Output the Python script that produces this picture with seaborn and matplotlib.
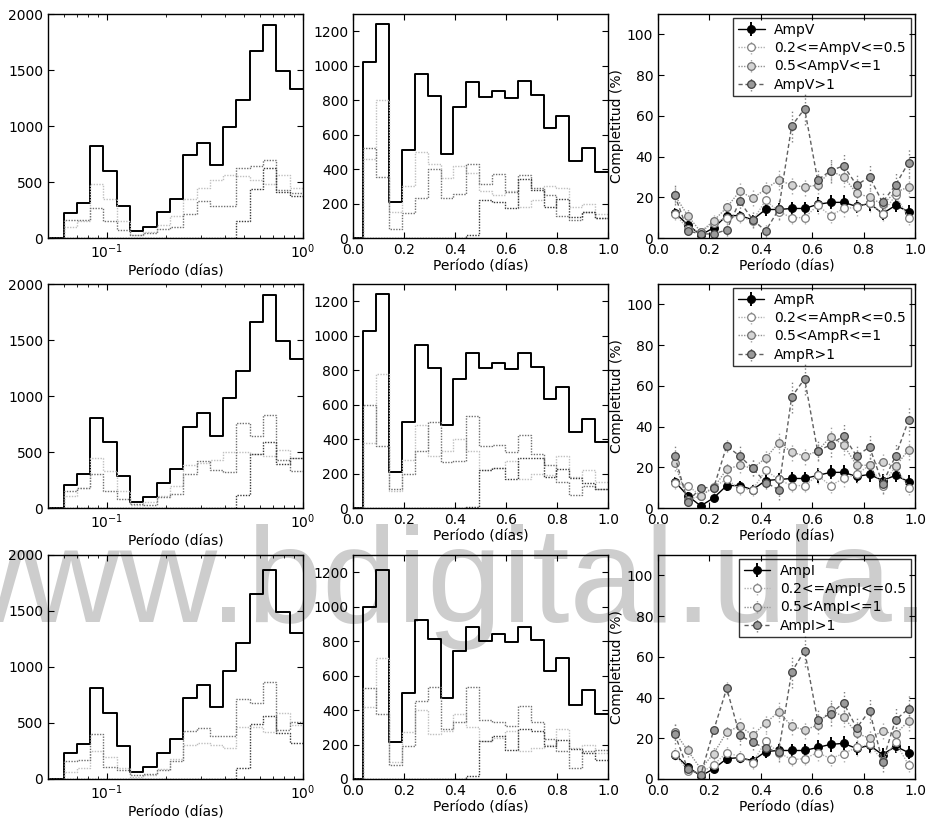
import numpy as np
import pandas as pd
import matplotlib
matplotlib.use("Agg")
import matplotlib.pyplot as plt
import seaborn as sns
from matplotlib.ticker import MultipleLocator

# ---------------------------------------------------------------------------
# Data
# ---------------------------------------------------------------------------
bands = ["V", "R", "I"]

# Left column: counts in 18 logarithmic period bins (0.06 - 1 d)
log_total_V = [220, 310, 820, 600, 290, 60, 100, 230, 350, 740, 850, 650, 990, 1230, 1670, 1900, 1490, 1330]
log_low_V = [100, 150, 480, 350, 150, 30, 50, 120, 200, 350, 450, 520, 560, 550, 520, 480, 560, 450]
log_mid_V = [160, 163, 267, 155, 74, 30, 45, 80, 98, 214, 333, 288, 288, 624, 639, 698, 431, 401]
log_high_V = [0, 0, 0, 0, 0, 0, 0, 0, 0, 0, 0, 0, 0, 149, 440, 624, 407, 377]

log_total_R = [208, 306, 808, 585, 282, 50, 95, 223, 348, 719, 847, 639, 981, 1227, 1664, 1902, 1495, 1328]
log_low_R = [110, 180, 450, 330, 150, 30, 50, 110, 200, 380, 400, 430, 500, 500, 480, 460, 520, 450]
log_mid_R = [150, 178, 306, 149, 80, 39, 30, 98, 125, 306, 422, 342, 321, 758, 645, 826, 425, 327]
log_high_R = [0, 0, 0, 0, 0, 0, 0, 0, 0, 0, 0, 0, 0, 113, 481, 585, 392, 446]

log_total_I = [232, 315, 811, 588, 291, 59, 104, 232, 357, 722, 841, 639, 966, 1212, 1649, 1866, 1495, 1308]
log_low_I = [60, 100, 250, 200, 100, 20, 40, 90, 180, 300, 320, 300, 280, 460, 460, 420, 590, 480]
log_mid_I = [158, 172, 404, 107, 83, 39, 45, 83, 158, 425, 455, 380, 380, 716, 678, 862, 440, 505]
log_high_I = [0, 0, 0, 0, 0, 0, 0, 0, 0, 0, 0, 0, 0, 98, 493, 559, 410, 321]

# Middle column: counts in 19 linear period bins (0.04 - 1 d)
lin_total_V = [1020, 1240, 210, 510, 950, 825, 485, 760, 905, 820, 855, 815, 910, 830, 640, 710, 445, 525, 385]
lin_low_V = [460, 800, 150, 300, 500, 430, 350, 420, 380, 270, 250, 270, 180, 220, 300, 290, 180, 200, 140]
lin_mid_V = [525, 355, 50, 145, 230, 400, 232, 255, 430, 315, 373, 265, 364, 290, 250, 130, 106, 153, 118]
lin_high_V = [0, 0, 0, 0, 0, 0, 0, 0, 18, 220, 210, 175, 345, 280, 180, 225, 120, 150, 115]

lin_total_R = [1030, 1240, 210, 500, 945, 815, 480, 750, 900, 810, 840, 805, 900, 820, 635, 705, 440, 515, 385]
lin_low_R = [380, 780, 100, 280, 480, 300, 330, 400, 330, 220, 230, 270, 170, 200, 190, 300, 180, 220, 150]
lin_mid_R = [600, 362, 110, 199, 329, 497, 265, 275, 532, 362, 364, 323, 426, 313, 250, 150, 75, 130, 110]
lin_high_R = [0, 0, 0, 0, 0, 0, 0, 0, 5, 222, 232, 168, 290, 288, 180, 228, 174, 145, 110]

lin_total_I = [1000, 1215, 215, 500, 925, 810, 470, 745, 880, 800, 840, 795, 880, 805, 625, 700, 430, 515, 380]
lin_low_I = [420, 700, 100, 270, 400, 260, 280, 380, 300, 220, 240, 280, 160, 180, 200, 290, 180, 200, 150]
lin_mid_I = [526, 376, 79, 189, 453, 536, 289, 328, 536, 343, 328, 310, 424, 333, 230, 160, 64, 160, 170]
lin_high_I = [0, 0, 0, 0, 0, 0, 0, 0, 15, 218, 247, 170, 289, 276, 189, 227, 175, 150, 112]

# Right column: completeness (%) per linear period bin
comp_all_V = [12.5, 6.5, 1.5, 5, 11, 11, 9, 14, 14, 14.5, 14.5, 16.5, 17.5, 17.5, 15.5, 17, 12, 16, 13]
comp_low_V = [12, 4.5, 3, 7.5, 10, 10.5, 8.5, 18.5, 13, 10, 10, 16, 11, 14.5, 15, 17, 12, 21, 10]
comp_mid_V = [21, 11, 3, 8.5, 15, 23, 19.5, 24, 28.5, 26, 25, 26, 33, 30, 22, 20, 16.5, 22.5, 25]
comp_high_V = [21, 3.5, 2, 2, 4, 18, 9, 3.5, 14, 55, 63.5, 28.5, 33, 35.5, 26, 30, 17.5, 26, 37]

comp_all_R = [13, 6, 1, 5, 11, 11, 9, 13.5, 14, 14.5, 14.5, 16, 17.5, 17.5, 15.5, 16.5, 13.5, 16, 13]
comp_low_R = [12.5, 11, 6, 10.5, 14, 9.5, 9, 18.5, 14, 11, 11, 16, 11, 14.5, 16.5, 21, 11, 20.5, 10]
comp_mid_R = [22, 4, 6, 10, 19, 21, 19.5, 24.5, 32, 27.5, 25.5, 28, 35, 31, 21, 21, 22.5, 20.5, 28.5]
comp_high_R = [25.5, 3, 10, 10, 30.5, 25.5, 19.5, 12.5, 9, 54.5, 63.5, 28, 31, 35.5, 25.5, 30, 12, 25.5, 43]

comp_all_I = [12, 6, 1.5, 5, 10, 10.5, 9, 13.5, 14, 14, 14, 15.5, 17, 17.5, 15, 16.5, 12, 16, 13]
comp_low_I = [12.5, 4, 3, 7, 13, 11, 8, 18.5, 13, 9.5, 10, 13, 10, 12.5, 15.5, 17, 9, 18, 7]
comp_mid_I = [23, 14, 5, 12.5, 23, 26, 21.5, 27.5, 33, 26, 24, 26.5, 34, 30.5, 22.5, 20, 23.5, 22, 28.5]
comp_high_I = [22, 5, 2, 24, 44.5, 21.5, 18, 15, 13.5, 52.5, 63, 29, 32, 37.5, 25, 33.5, 8.5, 29, 34.5]

# Poisson-like uncertainties on the completeness (%)
err_all = [2, 2, 1, 1.5, 2.5, 2.5, 2.5, 3, 3, 3, 3, 3.5, 3.5, 3.5, 3, 3.5, 3, 3, 3]
err_low = [3, 2, 2, 2.5, 3, 3, 3, 4, 3.5, 3, 3, 4, 3.5, 4, 4, 4, 3.5, 4.5, 3.5]
err_mid = [4, 3, 2, 3, 3.5, 4, 4, 4.5, 5, 4.5, 4.5, 4.5, 5, 5, 4.5, 4.5, 4, 4.5, 5]
err_high = [5, 2, 2, 2, 3, 5, 4, 3, 5, 8, 8, 5, 6, 6, 5, 6, 5, 6, 7]

# Bin definitions
log_edges = np.logspace(np.log10(0.06), 0.0, 19)
lin_edges = np.linspace(0.04, 1.0, 20)

log_sets = {
    "V": (log_total_V, log_low_V, log_mid_V, log_high_V),
    "R": (log_total_R, log_low_R, log_mid_R, log_high_R),
    "I": (log_total_I, log_low_I, log_mid_I, log_high_I),
}
lin_sets = {
    "V": (lin_total_V, lin_low_V, lin_mid_V, lin_high_V),
    "R": (lin_total_R, lin_low_R, lin_mid_R, lin_high_R),
    "I": (lin_total_I, lin_low_I, lin_mid_I, lin_high_I),
}
comp_sets = {
    "V": (comp_all_V, comp_low_V, comp_mid_V, comp_high_V),
    "R": (comp_all_R, comp_low_R, comp_mid_R, comp_high_R),
    "I": (comp_all_I, comp_low_I, comp_mid_I, comp_high_I),
}
errs = (err_all, err_low, err_mid, err_high)

# ---------------------------------------------------------------------------
# Style
# ---------------------------------------------------------------------------
sns.set_style("ticks")
plt.rcParams.update({
    "font.family": ["DejaVu Sans"],
    "font.size": 10,
    "axes.labelsize": 10,
    "xtick.labelsize": 10,
    "ytick.labelsize": 10,
    "xtick.direction": "in",
    "ytick.direction": "in",
    "xtick.top": True,
    "ytick.right": True,
    "xtick.major.size": 4,
    "ytick.major.size": 4,
    "xtick.minor.size": 2,
    "ytick.minor.size": 2,
    "axes.edgecolor": "black",
    "axes.linewidth": 1.0,
    "xtick.color": "black",
    "ytick.color": "black",
    "text.color": "black",
    "axes.labelcolor": "black",
})

dot = (0, (1, 1))
hist_styles = [
    dict(color="black", linewidth=1.4, linestyle="-"),
    dict(color="#c0c0c0", linewidth=1.0, linestyle=dot),
    dict(color="#707070", linewidth=1.0, linestyle=dot),
    dict(color="#3a3a3a", linewidth=1.0, linestyle=dot),
]

comp_styles = [
    dict(color="black", mfc="black", mec="black", ls="-", ecolor="black", elw=1.4),
    dict(color="#b0b0b0", mfc="white", mec="#808080", ls=dot, ecolor="#b0b0b0", elw=1.0),
    dict(color="#909090", mfc="#d4d4d4", mec="#707070", ls=dot, ecolor="#a0a0a0", elw=1.0),
    dict(color="#606060", mfc="#9a9a9a", mec="#404040", ls=(0, (3, 2)), ecolor="#808080", elw=1.0),
]

W, H = 929, 819
fig = plt.figure(figsize=(W / 100, H / 100), dpi=100)
fig.patch.set_facecolor("white")

col_left = [48, 353, 658]
col_width = [255, 255, 257]
row_top = [14, 284, 555]
ax_h = 224

# Watermark behind the panels
fig.text(-75 / W, 1 - 622 / H, "www.bdigital.ula.", fontsize=97,
         family=["Liberation Sans", "DejaVu Sans"], color="#cdcdcd",
         ha="left", va="baseline", zorder=-1)


def step_hist(ax, counts, edges, log, style):
    """Outline histogram drawn from per-bin counts."""
    if log:
        centers = np.sqrt(edges[:-1] * edges[1:])
        lg = np.log10(edges)
        bins = np.concatenate([[lg[0] - (lg[1] - lg[0])], lg])
    else:
        centers = 0.5 * (edges[:-1] + edges[1:])
        bins = np.concatenate([[edges[0] - (edges[1] - edges[0])], edges])
    df = pd.DataFrame({"periodo": centers, "n": np.asarray(counts, dtype=float)})
    sns.histplot(data=df, x="periodo", weights="n", bins=bins.tolist(),
                 element="step", fill=False, log_scale=log, ax=ax, **style)


lin_centers = 0.5 * (lin_edges[:-1] + lin_edges[1:])

for r, b in enumerate(bands):
    axes = []
    for c in range(3):
        ax = fig.add_axes([col_left[c] / W, 1 - (row_top[r] + ax_h) / H,
                           col_width[c] / W, ax_h / H])
        ax.set_facecolor("none")
        axes.append(ax)
    ax1, ax2, ax3 = axes

    # Logarithmic period histogram
    for counts, st in zip(log_sets[b], hist_styles):
        step_hist(ax1, counts, log_edges, True, st)
    ax1.set_xlim(0.05, 1.0)
    ax1.set_ylim(0, 2000)
    ax1.yaxis.set_major_locator(MultipleLocator(500))
    ax1.set_ylabel("")
    ax1.set_xlabel("Período (días)", labelpad=2)

    # Linear period histogram
    for counts, st in zip(lin_sets[b], hist_styles):
        step_hist(ax2, counts, lin_edges, False, st)
    ax2.set_xlim(0.0, 1.0)
    ax2.set_ylim(0, 1300)
    ax2.xaxis.set_major_locator(MultipleLocator(0.2))
    ax2.yaxis.set_major_locator(MultipleLocator(200))
    ax2.set_ylabel("")
    ax2.set_xlabel("Período (días)", labelpad=2)

    # Completeness per amplitude range
    labels = [f"Amp{b}", f"0.2<=Amp{b}<=0.5", f"0.5<Amp{b}<=1", f"Amp{b}>1"]
    for vals, err, st, lab in zip(comp_sets[b], errs, comp_styles, labels):
        cont = ax3.errorbar(lin_centers, vals, yerr=err, fmt="o", ms=5.5,
                            color=st["color"], mfc=st["mfc"], mec=st["mec"],
                            mew=0.9, linestyle=st["ls"], linewidth=1.0,
                            ecolor=st["ecolor"], elinewidth=st["elw"],
                            capsize=0, label=lab)
        if st["ls"] != "-":
            for lc in cont[2]:
                lc.set_linestyle(":")
    ax3.set_xlim(0.0, 1.0)
    ax3.set_ylim(0, 110)
    ax3.xaxis.set_major_locator(MultipleLocator(0.2))
    ax3.yaxis.set_major_locator(MultipleLocator(20))
    ax3.set_xlabel("Período (días)", labelpad=2)
    ax3.set_ylabel("Completitud (%)", labelpad=2)
    leg = ax3.legend(loc="upper right", fontsize=10, frameon=True,
                     fancybox=False, borderaxespad=0.3, handlelength=1.9,
                     labelspacing=0.3, borderpad=0.35, handletextpad=0.7)
    leg.get_frame().set_edgecolor("black")
    leg.get_frame().set_facecolor("none")
    leg.get_frame().set_linewidth(1.0)

    for ax in axes:
        for sp in ax.spines.values():
            sp.set_visible(True)
            sp.set_color("black")

fig.savefig("out.png", dpi=100, facecolor="white")
